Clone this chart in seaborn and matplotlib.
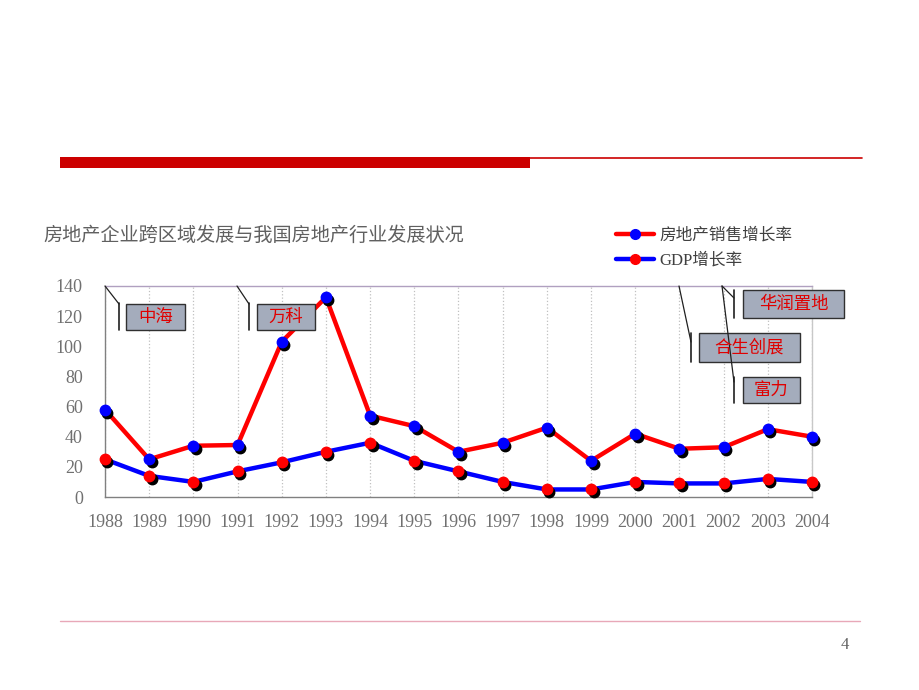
import numpy as np
import pandas as pd
import seaborn as sns
import matplotlib
matplotlib.use("Agg")
import matplotlib.pyplot as plt
from matplotlib.lines import Line2D
from matplotlib.patches import Rectangle
from matplotlib.transforms import ScaledTranslation

# ---- data ----
years = [1988, 1989, 1990, 1991, 1992, 1993, 1994, 1995, 1996, 1997,
         1998, 1999, 2000, 2001, 2002, 2003, 2004]
sales_growth = [58, 25, 34, 34.5, 103, 132.5, 54, 47, 30, 36,
                46, 24, 42, 32, 33, 45, 40]
gdp_growth = [25, 14, 10, 17, 23, 30, 36, 24, 17, 10,
              5, 5, 10, 9, 9, 12, 10]
series_names = ["房地产销售增长率", "GDP增长率"]
y_ticks = [0, 20, 40, 60, 80, 100, 120, 140]
title = "房地产企业跨区域发展与我国房地产行业发展状况"
callouts = ["中海", "万科", "华润置地", "合生创展", "富力"]
page_no = "4"

sns.set_style("white")
plt.rcParams["font.family"] = ["Liberation Serif", "Noto Sans CJK SC", "DejaVu Sans"]

W, H = 920, 690
fig = plt.figure(figsize=(W / 100, H / 100), dpi=100)
fig.patch.set_facecolor("white")


def fx(x):
    return x / W


def fy(y):
    return 1 - y / H


# ---- header / footer decoration ----
fig.add_artist(Rectangle((fx(60), fy(168)), fx(530) - fx(60), (168 - 157) / H,
                         transform=fig.transFigure, facecolor="#cc0000", edgecolor="none"))
fig.add_artist(Line2D([fx(530), fx(862)], [fy(157.5), fy(157.5)], transform=fig.transFigure,
                      color="#cc0000", lw=1.2))
fig.add_artist(Line2D([fx(60), fx(860)], [fy(621), fy(621)], transform=fig.transFigure,
                      color="#e8a8b8", lw=1.0))
fig.text(fx(845), fy(645), page_no, ha="center", va="center", fontsize=12, color="#606060")

# ---- title ----
fig.text(fx(43), fy(235), title, ha="left", va="center", fontsize=13.8, color="#606060",
         family=["Noto Sans CJK SC"])

# ---- axes ----
ax = fig.add_axes([fx(105), 193 / H, (812 - 105) / W, (497 - 286) / H])
idx = list(range(len(years)))
df = pd.DataFrame({
    "idx": idx * 2,
    "value": sales_growth + gdp_growth,
    "series": [series_names[0]] * len(years) + [series_names[1]] * len(years),
})
sns.lineplot(data=df, x="idx", y="value", hue="series",
             palette={series_names[0]: "#ff0000", series_names[1]: "#0000ff"},
             linewidth=3.2, legend=False, ax=ax, zorder=2)

shadow = ax.transData + ScaledTranslation(2.5 / 100, -3 / 100, fig.dpi_scale_trans)
for vals, mcol in [(sales_growth, "#0000ff"), (gdp_growth, "#ff0000")]:
    ax.plot(idx, vals, "o", color="black", ms=7.5, transform=shadow, zorder=3, clip_on=False)
    ax.plot(idx, vals, "o", color=mcol, ms=7.5, zorder=4, clip_on=False)

ax.set_xlim(0, 16)
ax.set_ylim(0, 140)
ax.set_xticks(idx)
ax.set_xticklabels([str(y) for y in years])
ax.set_yticks(y_ticks)
ax.set_yticklabels([str(t) for t in y_ticks])
ax.set_xlabel("")
ax.set_ylabel("")
ax.tick_params(axis="both", length=0, labelsize=13, labelcolor="#707070")
ax.tick_params(axis="x", pad=12)
ax.tick_params(axis="y", pad=16)
ax.xaxis.grid(True, linestyle=":", color="#c0c0c0", lw=0.9)
ax.yaxis.grid(False)
ax.spines["left"].set_color("#808080")
ax.spines["bottom"].set_color("#808080")
ax.spines["top"].set_color("#b0a0c0")
ax.spines["right"].set_color("#c8c8c8")
for s in ax.spines.values():
    s.set_linewidth(1.0)

# ---- legend ----
handles = [
    Line2D([0], [0], color="#ff0000", lw=3.2, marker="o", mfc="#0000ff", mec="#0000ff", ms=7),
    Line2D([0], [0], color="#0000ff", lw=3.2, marker="o", mfc="#ff0000", mec="#ff0000", ms=7),
]
ax.legend(handles, series_names, loc="upper left", bbox_to_anchor=(fx(616), fy(228)),
          bbox_transform=fig.transFigure, frameon=False, fontsize=12, handlelength=2.3,
          handletextpad=0.3, labelspacing=0.5, borderpad=0, borderaxespad=0,
          labelcolor="#404040")

# ---- callouts ----
boxes = [  # (x0, y0, x1, y1) in pixels
    (126, 304, 185, 330),
    (257, 304, 315, 330),
    (743, 290, 844, 318),
    (699, 333, 800, 362),
    (743, 377, 800, 403),
]
leaders = [
    [(105, 286), (119, 304)], [(237, 286), (249, 304)],
    [(722, 286), (734, 298)], [(679, 286), (691, 342)], [(722, 286), (734, 382)],
]
bars = [(119, 303, 330), (249, 303, 330), (734, 290, 318), (691, 333, 362), (734, 377, 403)]
for (x0, y0, x1, y1), txt, ld, (bx, by0, by1) in zip(boxes, callouts, leaders, bars):
    fig.add_artist(Rectangle((fx(x0), fy(y1)), (x1 - x0) / W, (y1 - y0) / H,
                             transform=fig.transFigure, facecolor="#a4acbc",
                             edgecolor="#303030", lw=1.0, zorder=5))
    fig.text(fx((x0 + x1) / 2), fy((y0 + y1) / 2), txt, ha="center", va="center",
             fontsize=12.5, color="#e00000", family=["Noto Sans CJK SC"], zorder=6)
    fig.add_artist(Line2D([fx(ld[0][0]), fx(ld[1][0])], [fy(ld[0][1]), fy(ld[1][1])],
                          transform=fig.transFigure, color="#202020", lw=0.9, zorder=5))
    fig.add_artist(Line2D([fx(bx), fx(bx)], [fy(by0), fy(by1)],
                          transform=fig.transFigure, color="#202020", lw=1.2, zorder=5))

fig.savefig("out.png", dpi=100, facecolor="white")
